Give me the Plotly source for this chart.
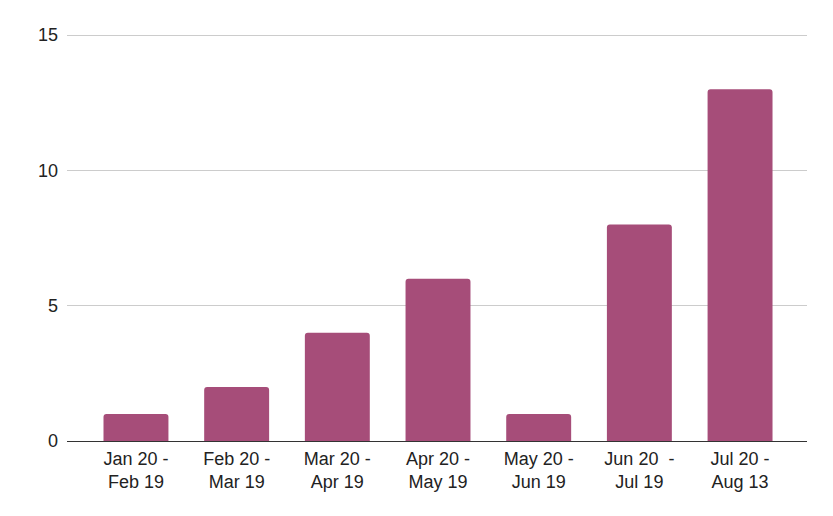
import plotly.graph_objects as go

# date ranges and counts
periods = ["Jan 20 -<br>Feb 19", "Feb 20 -<br>Mar 19", "Mar 20 -<br>Apr 19",
           "Apr 20 -<br>May 19", "May 20 -<br>Jun 19", "Jun 20  -<br>Jul 19",
           "Jul 20 -<br>Aug 13"]
counts = [1, 2, 4, 6, 1, 8, 13]

fig = go.Figure(go.Bar(
    x=periods, y=counts,
    marker=dict(color="#a64d79", cornerradius=3, line=dict(width=0)),
    width=0.645,
))

# page has an 8px body margin, so the figure is a bit smaller than the window
fig.update_layout(
    width=825, height=508,
    margin=dict(l=59, r=26, t=19, b=75),
    plot_bgcolor="white", paper_bgcolor="white",
    font=dict(family="Liberation Sans, Arial", size=18, color="#222222"),
    showlegend=False,
)
fig.update_xaxes(range=[-0.685, 6.665], showgrid=False, showline=False, ticks="",
                 automargin=False, ticklabelstandoff=5)
fig.update_yaxes(range=[0, 15.3], tickvals=[0, 5, 10, 15], gridcolor="#cccccc",
                 zeroline=True, zerolinecolor="#333333", zerolinewidth=1.3,
                 ticks="", ticklabelstandoff=8, automargin=False)

fig.write_html("out.html")
